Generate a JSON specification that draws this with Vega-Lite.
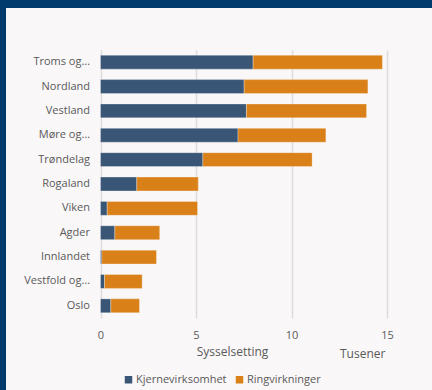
{
  "$schema": "https://vega.github.io/schema/vega-lite/v6.json",
  "width": 426,
  "height": 382,
  "autosize": {"type": "none"},
  "padding": {"left": 6, "top": 8, "right": 0, "bottom": 0},
  "background": "#013A6D",
  "title": {"text": "Tusener", "orient": "bottom", "anchor": "start", "frame": "group", "dx": 334, "dy": -41, "offset": 0, "fontSize": 12, "font": "Open Sans", "fontWeight": "normal", "color": "#595959"},
  "data": {
    "values": [
      {"region": "Troms og Finnmark", "type": "Kjernevirksomhet", "value": 7.99},
      {"region": "Troms og Finnmark", "type": "Ringvirkninger", "value": 6.77},
      {"region": "Nordland", "type": "Kjernevirksomhet", "value": 7.52},
      {"region": "Nordland", "type": "Ringvirkninger", "value": 6.48},
      {"region": "Vestland", "type": "Kjernevirksomhet", "value": 7.64},
      {"region": "Vestland", "type": "Ringvirkninger", "value": 6.29},
      {"region": "Møre og Romsdal", "type": "Kjernevirksomhet", "value": 7.2},
      {"region": "Møre og Romsdal", "type": "Ringvirkninger", "value": 4.6},
      {"region": "Trøndelag", "type": "Kjernevirksomhet", "value": 5.36},
      {"region": "Trøndelag", "type": "Ringvirkninger", "value": 5.72},
      {"region": "Rogaland", "type": "Kjernevirksomhet", "value": 1.9},
      {"region": "Rogaland", "type": "Ringvirkninger", "value": 3.22},
      {"region": "Viken", "type": "Kjernevirksomhet", "value": 0.35},
      {"region": "Viken", "type": "Ringvirkninger", "value": 4.73},
      {"region": "Agder", "type": "Kjernevirksomhet", "value": 0.75},
      {"region": "Agder", "type": "Ringvirkninger", "value": 2.35},
      {"region": "Innlandet", "type": "Kjernevirksomhet", "value": 0.07},
      {"region": "Innlandet", "type": "Ringvirkninger", "value": 2.86},
      {"region": "Vestfold og Telemark", "type": "Kjernevirksomhet", "value": 0.21},
      {"region": "Vestfold og Telemark", "type": "Ringvirkninger", "value": 1.97},
      {"region": "Oslo", "type": "Kjernevirksomhet", "value": 0.54},
      {"region": "Oslo", "type": "Ringvirkninger", "value": 1.5}
    ]
  },
  "mark": {"type": "bar", "stroke": "#FFFFFF", "strokeOpacity": 0.3, "strokeWidth": 1},
  "encoding": {
    "y": {
      "field": "region",
      "type": "nominal",
      "sort": null,
      "scale": {"range": [42, 310], "paddingInner": 0.43, "paddingOuter": 0.215, "round": false},
      "axis": {
        "title": null,
        "ticks": false,
        "domain": false,
        "offset": -94.5,
        "labelPadding": 11,
        "labelFontSize": 11,
        "labelFont": "Open Sans",
        "labelColor": "#595959",
        "labelExpr": "replace(replace(replace(datum.label, ' og Finnmark', ' og…'), ' og Romsdal', ' og…'), ' og Telemark', ' og…')"
      }
    },
    "x": {
      "field": "value",
      "type": "quantitative",
      "stack": "zero",
      "scale": {"domain": [-4.948, 17.356], "nice": false, "zero": false},
      "axis": {
        "title": "Sysselsetting",
        "values": [0, 5, 10, 15],
        "offset": -72,
        "ticks": true,
        "tickSize": -268,
        "tickWidth": 1.5,
        "tickColor": "#DDDBDC",
        "domain": false,
        "grid": false,
        "labelPadding": 279,
        "labelFontSize": 11,
        "labelFont": "Open Sans",
        "labelColor": "#595959",
        "labelFlush": false,
        "titleFont": "Open Sans",
        "titleFontSize": 12,
        "titleFontWeight": "normal",
        "titleColor": "#595959",
        "titleX": 226,
        "titleY": 28,
        "titleBaseline": "top"
      }
    },
    "color": {
      "field": "type",
      "type": "nominal",
      "scale": {"domain": ["Kjernevirksomhet", "Ringvirkninger"], "range": ["#3A5676", "#D98019"]},
      "legend": {
        "title": null,
        "orient": "none",
        "direction": "horizontal",
        "legendX": 117,
        "legendY": 366,
        "symbolType": "square",
        "symbolSize": 56,
        "symbolStrokeWidth": 0,
        "labelFont": "Open Sans",
        "labelFontSize": 11,
        "labelColor": "#595959",
        "columnPadding": 7,
        "labelOffset": 2
      }
    }
  },
  "config": {"view": {"stroke": null, "fill": "#F9F7F8"}}
}
